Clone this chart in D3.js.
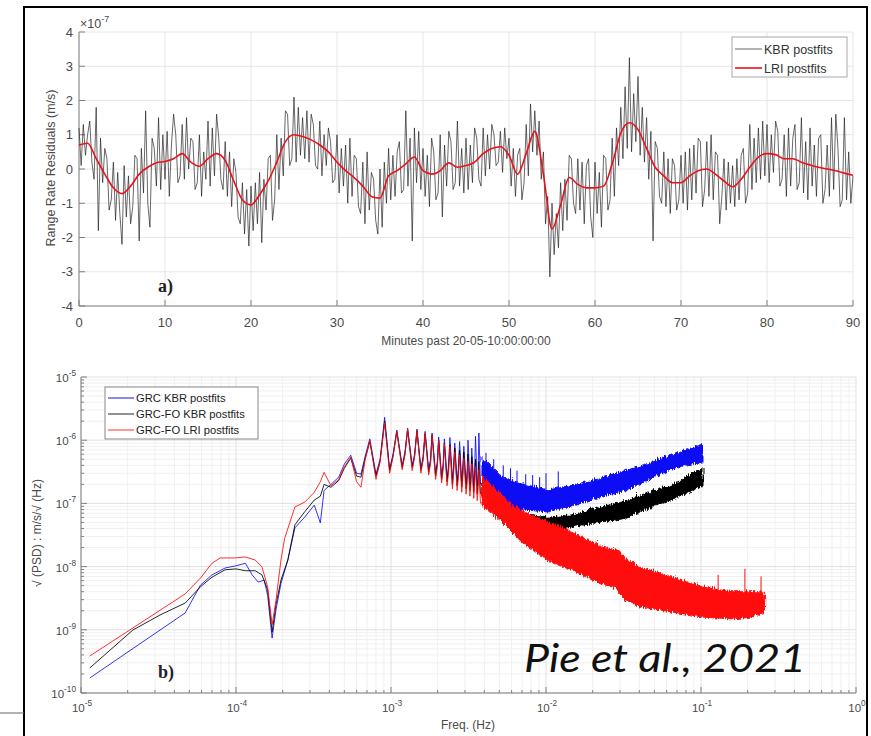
<!DOCTYPE html>
<html><head><meta charset="utf-8">
<script src="https://cdn.jsdelivr.net/npm/d3@7"></script>
<style>body{margin:0;background:#fff}svg{display:block}</style>
</head><body>
<svg id="c" width="871" height="736"></svg>
<script>
// ---------------- DATA: panel a ----------------
const timeTicks = [0,10,20,30,40,50,60,70,80,90];
const resTicks = [-4,-3,-2,-1,0,1,2,3,4];
const kbrStep = 0.25; // minutes between KBR samples
const kbrValues = [
1.2,0.1,1.3,0.4, 1.0,1.4,0.2,-0.3, 1.8,-1.8,0.9,-0.4, 0.6,0.3,-1.2,-0.9, 0.2,-1.5,-0.1,-1.3,
-2.2,0.1,-1.4,-0.2, -1.6,-1.1,0.4,0.3, -2.1,0.6,-0.7,1.7, -1.0,-1.7,0.9,0.6, -0.5,1.5,-0.6,1.0,
-0.3,1.1,-0.8,0.7, 1.6,1.0,-0.4,-0.2, 1.3,-0.3,1.5,0.0, 0.9,0.8,-0.6,-0.4, 1.0,-0.8,0.5,-0.3,
1.4,-0.5,1.2,-0.2, 1.6,0.9,-0.3,-0.6, 0.8,-0.8,0.5,-1.1, 0.3,-0.1,-1.4,-1.6, -0.4,-1.9,-0.6,-2.25,
-0.5,-1.8,-0.4,-1.6, -0.1,-2.15,-0.3,-1.2, 0.3,0.4,-1.5,-0.9, 1.0,-0.6,0.9,-0.2, 1.7,1.6,0.1,0.3,
2.1,0.2,1.8,0.4, 1.5,0.3,1.7,0.2, 1.6,1.3,0.1,0.0, 1.4,-0.2,1.0,0.1, 1.2,0.8,-0.4,-0.3,
1.0,-0.7,0.6,-0.5, 0.7,-1.0,0.9,-0.8, 0.4,0.3,-1.1,-1.3, 0.2,-1.6,0.5,-1.2, -0.1,-0.3,-1.5,-1.9,
0.0,-1.7,0.2,-1.0, 0.6,-0.9,0.4,-0.8, 0.5,0.8,-0.7,-0.6, 1.7,-0.5,0.9,-2.1, 1.2,-0.4,1.1,-0.6,
0.6,-0.8,0.4,-1.1, 0.9,0.5,-0.9,-0.7, 1.0,-1.4,0.7,-0.5, 1.1,0.8,-0.6,-0.4, 1.4,-0.5,0.6,-0.7,
0.9,-0.6,0.7,-0.4, 1.2,0.9,-0.3,-0.5, 1.2,-0.2,1.0,0.0, 1.3,1.0,0.1,0.2, 1.1,-0.1,1.2,0.3,
0.9,-0.5,0.6,-0.8, 0.4,0.6,-0.9,-0.4, 1.3,-0.2,1.9,0.5, 1.7,0.4,1.4,-0.3, 0.5,-1.6,-0.8,-3.15,
-1.0,-2.5,-1.3,-2.3, -0.4,-1.8,-0.3,-1.5, 0.4,0.3,-1.0,-1.3, 0.3,-1.2,0.2,-1.6, 0.1,0.3,-1.4,-2.0,
0.2,-1.3,-0.1,-1.7, 0.4,0.3,-1.2,-0.9, 0.9,-0.8,1.2,0.1, 1.8,0.3,2.4,0.6, 3.25,0.5,2.2,0.8,
2.7,0.4,1.8,0.2, 1.5,-0.3,1.1,-2.1, 0.8,0.6,-0.8,-1.0, 0.5,-1.1,0.3,-1.3, 0.3,0.1,-1.2,-0.9,
0.4,-1.0,0.5,-1.2, 0.6,-0.9,0.7,-0.7, 0.9,0.8,-1.1,-0.6, 0.8,-0.8,1.0,-0.9, 0.5,0.4,-1.6,-0.8,
0.3,-1.2,0.2,-1.0, 0.1,-1.1,0.3,-0.9, 0.4,0.6,-1.0,-0.7, 1.3,-0.6,0.9,-0.4, 1.2,-0.3,1.4,-0.2,
1.3,-0.4,1.0,-0.1, 1.4,1.1,-0.5,-0.3, 1.0,-0.8,1.2,-0.5, 0.9,1.3,-0.6,-0.4, 1.5,-0.7,0.8,-0.9,
1.2,-0.5,0.7,-0.8, 0.9,1.0,-1.0,-0.6, 0.7,-0.8,1.5,-0.6, 1.6,0.6,-1.1,-0.9, 1.5,-0.9,0.5,-1.0,
-0.2];
const lriStep = 1; // minutes between LRI points
const lriValues = [
0.70,0.75,0.30,-0.15,-0.55,-0.72,-0.50,-0.15,0.05,0.18,
0.22,0.30,0.45,0.20,0.08,0.30,0.45,0.25,-0.35,-0.90,
-1.05,-0.75,-0.35,0.20,0.80,1.00,0.95,0.85,0.70,0.50,
0.20,-0.05,-0.25,-0.50,-0.80,-0.85,-0.20,-0.05,0.15,0.35,
-0.05,-0.15,-0.05,0.18,0.05,0.10,0.20,0.45,0.60,0.65,
0.40,-0.15,0.45,1.10,-0.15,-1.75,-1.05,-0.25,-0.45,-0.55,
-0.55,-0.50,0.15,1.05,1.35,1.15,0.60,0.05,-0.20,-0.40,
-0.40,-0.20,-0.05,0.00,-0.15,-0.35,-0.52,-0.30,0.05,0.35,
0.45,0.42,0.30,0.30,0.20,0.12,0.05,0.00,-0.05,-0.12,-0.18];

// ---------------- DATA: panel b ----------------
const freqTicks = [1e-5,1e-4,1e-3,1e-2,1e-1,1];
const freqTickExp = ["-5","-4","-3","-2","-1","0"];
const psdTicks = [1e-10,1e-9,1e-8,1e-7,1e-6,1e-5];
const psdTickExp = ["-10","-9","-8","-7","-6","-5"];

const blueLow = [[1.14e-5,1.73e-10],[4.7e-5,1.85e-9],[5.9e-5,5.1e-9],[7.0e-5,7.4e-9],[8.5e-5,9.5e-9],
 [1.0e-4,1.03e-8],[1.15e-4,1.13e-8],[1.27e-4,7.4e-9],[1.39e-4,5.7e-9],[1.52e-4,6.1e-9],[1.6e-4,3.5e-9],
 [1.71e-4,7.4e-10],[1.81e-4,2.06e-9],[1.95e-4,5.4e-9],[2.16e-4,1.27e-8],[2.4e-4,4.1e-8],[2.78e-4,6.1e-8]];
const blackLow = [[1.14e-5,2.49e-10],[2.16e-5,9.9e-10],[3.23e-5,1.71e-9],[4.7e-5,2.65e-9],[5.9e-5,4.8e-9],
 [7.0e-5,6.8e-9],[8.5e-5,8.9e-9],[1.0e-4,9.2e-9],[1.15e-4,8.6e-9],[1.33e-4,8.6e-9],[1.47e-4,7.4e-9],
 [1.6e-4,4.3e-9],[1.71e-4,9.2e-10],[1.81e-4,2.5e-9],[1.95e-4,6.1e-9],[2.16e-4,1.27e-8],[2.4e-4,4.6e-8],[2.78e-4,7.4e-8]];
const redLow = [[1.14e-5,3.85e-10],[4.7e-5,3.7e-9],[5.9e-5,6.6e-9],[7.0e-5,1.13e-8],[7.9e-5,1.37e-8],
 [9.8e-5,1.37e-8],[1.15e-4,1.42e-8],[1.33e-4,1.27e-8],[1.47e-4,9.9e-9],[1.6e-4,4.8e-9],[1.71e-4,1.2e-9],
 [1.81e-4,2.9e-9],[1.95e-4,1.27e-8],[2.06e-4,2.8e-8],[2.4e-4,8.8e-8],[2.78e-4,1.05e-7]];

const oscFreq = [
3.2e-4,3.5e-4,3.7e-4,4.1e-4,4.6e-4,5.0e-4,5.5e-4,6.0e-4,6.4e-4,6.8e-4,
7.3e-4,8.0e-4,8.5e-4,9.1e-4,9.8e-4,1.03e-3,1.09e-3,1.18e-3,1.23e-3,1.28e-3,
1.37e-3,1.42e-3,1.47e-3,1.56e-3,1.61e-3,1.66e-3,1.75e-3,1.80e-3,1.84e-3,1.94e-3,
1.99e-3,2.03e-3,2.12e-3,2.17e-3,2.21e-3,2.30e-3,2.35e-3,2.40e-3,2.49e-3,2.53e-3,
2.58e-3,2.67e-3,2.72e-3,2.77e-3,2.86e-3,2.90e-3,2.95e-3,3.05e-3,3.10e-3,3.14e-3,
3.23e-3,3.28e-3,3.32e-3,3.42e-3,3.46e-3,3.51e-3,3.60e-3,3.65e-3,3.69e-3,3.78e-3];
const blueOsc = [
9.4e-8,4.9e-8,1.6e-7,2.0e-7,2.6e-7,4.2e-7,5.8e-7,3.0e-7,2.9e-7,5.5e-7,
1.05e-6,2.9e-7,5.0e-7,2.3e-6,3.5e-7,6.0e-7,1.45e-6,4.0e-7,6.5e-7,1.55e-6,
4.0e-7,6.0e-7,1.5e-6,3.6e-7,5.5e-7,1.38e-6,3.5e-7,5.0e-7,1.3e-6,3.0e-7,
4.6e-7,1.12e-6,2.7e-7,4.2e-7,1.05e-6,2.5e-7,4.0e-7,1.1e-6,2.4e-7,3.8e-7,
9.0e-7,2.3e-7,3.6e-7,9.5e-7,2.2e-7,3.5e-7,8.0e-7,2.1e-7,3.4e-7,1.0e-6,
2.0e-7,3.2e-7,7.5e-7,1.9e-7,3.0e-7,1.15e-6,1.9e-7,3.0e-7,1.3e-6,2.0e-7];
const blackOsc = [
1.13e-7,1.3e-7,2.0e-7,1.8e-7,2.3e-7,3.6e-7,5.2e-7,2.7e-7,2.6e-7,5.0e-7,
9.5e-7,2.7e-7,4.6e-7,2.0e-6,3.3e-7,5.6e-7,1.35e-6,3.7e-7,6.0e-7,1.45e-6,
3.7e-7,5.6e-7,1.4e-6,3.3e-7,5.0e-7,1.25e-6,3.1e-7,4.6e-7,1.2e-6,2.7e-7,
4.2e-7,1.0e-6,2.4e-7,3.8e-7,9.0e-7,2.2e-7,3.5e-7,8.5e-7,2.0e-7,3.3e-7,
7.5e-7,1.9e-7,3.0e-7,7.0e-7,1.8e-7,2.8e-7,6.5e-7,1.7e-7,2.6e-7,6.0e-7,
1.6e-7,2.5e-7,5.5e-7,1.5e-7,2.3e-7,5.0e-7,1.4e-7,2.2e-7,4.6e-7,1.4e-7];
const redOsc = [
1.5e-7,2.2e-7,3.1e-7,1.9e-7,2.4e-7,3.8e-7,5.4e-7,2.2e-7,1.8e-7,4.8e-7,
1.0e-6,2.4e-7,4.5e-7,1.9e-6,3.0e-7,5.4e-7,1.4e-6,3.4e-7,5.8e-7,1.5e-6,
3.3e-7,5.4e-7,1.45e-6,3.0e-7,4.8e-7,1.3e-6,2.8e-7,4.3e-7,1.2e-6,2.4e-7,
3.8e-7,1.0e-6,2.1e-7,3.4e-7,8.8e-7,1.9e-7,3.0e-7,8.0e-7,1.7e-7,2.7e-7,
6.5e-7,1.6e-7,2.5e-7,5.8e-7,1.5e-7,2.3e-7,5.2e-7,1.4e-7,2.1e-7,4.6e-7,
1.3e-7,2.0e-7,4.2e-7,1.2e-7,1.9e-7,3.8e-7,1.1e-7,1.7e-7,3.4e-7,1.0e-7];

// dense-noise envelopes at high frequency
const kbrBandFreq = [3.75e-3,5.05e-3,6.8e-3,1.0e-2,1.43e-2,2.23e-2,3.0e-2,4.5e-2,6.3e-2,8.0e-2,1.0e-1];
const blueBandHi = [5.8e-7,2.8e-7,2.2e-7,1.75e-7,2.1e-7,2.7e-7,3.4e-7,4.7e-7,6.3e-7,7.8e-7,9.4e-7];
const blueBandLo = [2.0e-7,9.4e-8,8.5e-8,7.9e-8,1.0e-7,1.4e-7,1.63e-7,2.6e-7,3.77e-7,4.4e-7,4.9e-7];
const blackBandHi = [2.8e-7,1.2e-7,7.5e-8,6.5e-8,7.1e-8,9.5e-8,1.13e-7,1.6e-7,2.1e-7,2.9e-7,4.0e-7];
const blackBandLo = [1.4e-7,6.5e-8,4.5e-8,3.8e-8,4.6e-8,5.5e-8,6.1e-8,9.0e-8,1.26e-7,1.6e-7,2.1e-7];
const redBandFreq = [3.75e-3,5.05e-3,6.8e-3,1.0e-2,1.43e-2,2.23e-2,2.7e-2,2.9e-2,3.2e-2,3.87e-2,6.3e-2,1.0e-1,1.54e-1,2.0e-1,2.5e-1];
const redBandHi = [3.0e-7,1.4e-7,8.0e-8,5.5e-8,3.8e-8,2.2e-8,2.0e-8,1.9e-8,1.4e-8,1.06e-8,7.4e-9,5.1e-9,4.3e-9,4.3e-9,4.3e-9];
const redBandLo = [1.0e-7,5.5e-8,2.6e-8,1.35e-8,9.5e-9,5.7e-9,5.0e-9,4.0e-9,3.2e-9,2.5e-9,2.06e-9,1.71e-9,1.6e-9,1.7e-9,2.06e-9];
const blueSpikes = [[4.1e-3,6.3e-7],[4.6e-3,5.0e-7],[5.3e-3,4.0e-7],[5.9e-3,3.6e-7],[6.5e-3,3.3e-7],[7.4e-3,2.9e-7],[8.2e-3,2.8e-7],[9.1e-3,2.6e-7],[1.0e-2,3.0e-7],[1.2e-2,3.2e-7]];
const redSpikes = [[0.129,7.4e-9],[0.192,9.2e-9],[0.244,7.0e-9]];

// ---------------- DRAW ----------------
const svg = d3.select('#c');
const TXT = '#4a4a4a', AX = '#808080', FONT = 'Liberation Sans, Arial, sans-serif';
const defs = svg.append('defs');
const flt = defs.append('filter').attr('id','rough').attr('x','-5%').attr('y','-30%').attr('width','110%').attr('height','160%');
flt.append('feTurbulence').attr('type','turbulence').attr('baseFrequency','0.9 0.06').attr('numOctaves',1).attr('seed',4).attr('result','n');
flt.append('feDisplacementMap').attr('in','SourceGraphic').attr('in2','n').attr('scale',6).attr('xChannelSelector','R').attr('yChannelSelector','G');

// outer frame
svg.append('rect').attr('x',24).attr('y',7).attr('width',843).attr('height',745).attr('fill','none').attr('stroke','#000').attr('stroke-width',2);
svg.append('line').attr('x1',0).attr('x2',24).attr('y1',713).attr('y2',713).attr('stroke','#666');

function sup(g, x, y, exp, anchor, size){
  const t = g.append('text').attr('x',x).attr('y',y).attr('text-anchor',anchor)
    .attr('font-family',FONT).attr('font-size',size).attr('fill',TXT);
  t.append('tspan').text('10');
  t.append('tspan').attr('dy',-6).attr('font-size',size*0.72).text(exp);
  return t;
}

// ----- panel a -----
const xa = d3.scaleLinear([0,90],[79,853]);
const ya = d3.scaleLinear([-4,4],[306,32]);
const ga = svg.append('g');
ga.selectAll('.gx').data(timeTicks).join('line').attr('x1',d=>xa(d)).attr('x2',d=>xa(d)).attr('y1',ya(-4)).attr('y2',ya(4)).attr('stroke','#e6e6e6');
ga.selectAll('.gy').data(resTicks).join('line').attr('y1',d=>ya(d)).attr('y2',d=>ya(d)).attr('x1',xa(0)).attr('x2',xa(90)).attr('stroke','#e6e6e6');
ga.append('line').attr('x1',xa(0)).attr('x2',xa(90)).attr('y1',ya(-4)).attr('y2',ya(-4)).attr('stroke',AX);
ga.append('line').attr('x1',xa(0)).attr('x2',xa(0)).attr('y1',ya(-4)).attr('y2',ya(4)).attr('stroke',AX);
ga.selectAll('.tx').data(timeTicks).join('line').attr('x1',d=>xa(d)).attr('x2',d=>xa(d)).attr('y1',ya(-4)).attr('y2',ya(-4)-6).attr('stroke',AX);
ga.selectAll('.ty').data(resTicks).join('line').attr('y1',d=>ya(d)).attr('y2',d=>ya(d)).attr('x1',xa(0)).attr('x2',xa(0)+6).attr('stroke',AX);
ga.selectAll('.lx').data(timeTicks).join('text').attr('x',d=>xa(d)).attr('y',327).attr('text-anchor','middle')
  .attr('font-family',FONT).attr('font-size',13).attr('fill',TXT).text(d=>d);
ga.selectAll('.ly').data(resTicks).join('text').attr('x',73).attr('y',d=>ya(d)+4.5).attr('text-anchor','end')
  .attr('font-family',FONT).attr('font-size',13).attr('fill',TXT).text(d=>d);
{ const t = ga.append('text').attr('x',80).attr('y',28).attr('font-family',FONT).attr('font-size',12.5).attr('fill',TXT);
  t.append('tspan').text('\u00d710'); t.append('tspan').attr('dy',-6).attr('font-size',9).text('-7'); }
ga.append('text').attr('x',466).attr('y',345).attr('text-anchor','middle').attr('font-family',FONT).attr('font-size',12).attr('fill',TXT).text('Minutes past 20-05-10:00:00:00');
ga.append('text').attr('transform','translate(55,168) rotate(-90)').attr('text-anchor','middle').attr('font-family',FONT).attr('font-size',12.5).attr('fill',TXT).text('Range Rate Residuals (m/s)');

const kbrLine = d3.line().x((d,i)=>xa(i*kbrStep)).y(d=>ya(d));
ga.append('path').attr('d',kbrLine(kbrValues)).attr('fill','none').attr('stroke','#1e1e1e').attr('stroke-opacity',0.75).attr('stroke-width',0.9);
const lriLine = d3.line().curve(d3.curveMonotoneX).x((d,i)=>xa(i*lriStep)).y(d=>ya(d));
ga.append('path').attr('d',lriLine(lriValues)).attr('fill','none').attr('stroke','#e8121c').attr('stroke-width',1.6);
ga.append('text').attr('x',158).attr('y',292).attr('font-family','Liberation Serif, Times New Roman, serif').attr('font-weight','bold').attr('font-size',18).attr('fill','#222').text('a)');

// legend a
ga.append('rect').attr('x',732).attr('y',37).attr('width',115).attr('height',40).attr('fill','#fff').attr('stroke','#a8a8a8');
ga.append('line').attr('x1',735).attr('x2',762).attr('y1',49).attr('y2',49).attr('stroke','#555').attr('stroke-width',0.9);
ga.append('line').attr('x1',735).attr('x2',762).attr('y1',68).attr('y2',68).attr('stroke','#e8121c').attr('stroke-width',1.6);
ga.append('text').attr('x',764).attr('y',53.5).attr('font-family',FONT).attr('font-size',12.5).attr('fill','#333').text('KBR postfits');
ga.append('text').attr('x',764).attr('y',72.5).attr('font-family',FONT).attr('font-size',12.5).attr('fill','#333').text('LRI postfits');

// ----- panel b -----
const xb = d3.scaleLog([1e-5,1],[81,856]);
const yb = d3.scaleLog([1e-10,1e-5],[693,377]);
const gb = svg.append('g');
const minorX = [], minorY = [];
for (let e=-5; e<0; e++) for (let k=2; k<10; k++) minorX.push(k*Math.pow(10,e));
for (let e=-10; e<-5; e++) for (let k=2; k<10; k++) minorY.push(k*Math.pow(10,e));
gb.selectAll('.mgx').data(minorX).join('line').attr('x1',d=>xb(d)).attr('x2',d=>xb(d)).attr('y1',693).attr('y2',377).attr('stroke','#f0f0f0');
gb.selectAll('.mgy').data(minorY).join('line').attr('y1',d=>yb(d)).attr('y2',d=>yb(d)).attr('x1',81).attr('x2',856).attr('stroke','#f0f0f0');
gb.selectAll('.gx').data(freqTicks).join('line').attr('x1',d=>xb(d)).attr('x2',d=>xb(d)).attr('y1',693).attr('y2',377).attr('stroke','#e0e0e0');
gb.selectAll('.gy').data(psdTicks).join('line').attr('y1',d=>yb(d)).attr('y2',d=>yb(d)).attr('x1',81).attr('x2',856).attr('stroke','#e0e0e0');
gb.append('line').attr('x1',81).attr('x2',856).attr('y1',693).attr('y2',693).attr('stroke',AX);
gb.append('line').attr('x1',81).attr('x2',81).attr('y1',693).attr('y2',377).attr('stroke',AX);
gb.selectAll('.tx').data(freqTicks).join('line').attr('x1',d=>xb(d)).attr('x2',d=>xb(d)).attr('y1',693).attr('y2',687).attr('stroke',AX);
gb.selectAll('.mtx').data(minorX).join('line').attr('x1',d=>xb(d)).attr('x2',d=>xb(d)).attr('y1',693).attr('y2',690).attr('stroke',AX);
gb.selectAll('.ty').data(psdTicks).join('line').attr('y1',d=>yb(d)).attr('y2',d=>yb(d)).attr('x1',81).attr('x2',87).attr('stroke',AX);
gb.selectAll('.mty').data(minorY).join('line').attr('y1',d=>yb(d)).attr('y2',d=>yb(d)).attr('x1',81).attr('x2',84).attr('stroke',AX);
freqTicks.forEach((f,i)=>sup(gb, xb(f)+1, 712, freqTickExp[i], 'middle', 11.5));
psdTicks.forEach((v,i)=>sup(gb, 76, yb(v)+5, psdTickExp[i], 'end', 11.5));
gb.append('text').attr('x',468).attr('y',729).attr('text-anchor','middle').attr('font-family',FONT).attr('font-size',12).attr('fill',TXT).text('Freq. (Hz)');
gb.append('text').attr('transform','translate(41,533) rotate(-90)').attr('text-anchor','middle').attr('font-family',FONT).attr('font-size',12).attr('fill',TXT).text('\u221a (PSD) : m/s/\u221a (Hz)');

const lb = d3.line().x(d=>xb(d[0])).y(d=>yb(d[1]));
const ab = d3.area().x(d=>xb(d[0])).y0(d=>yb(d[1])).y1(d=>yb(d[2]));
function pts(low, osc){ return low.concat(oscFreq.map((f,i)=>[f, osc[i]])); }
function band(fr, lo, hi){ return fr.map((f,i)=>[f, lo[i], hi[i]]); }
const series = [
  {low:blueLow, osc:blueOsc, fr:kbrBandFreq, lo:blueBandLo, hi:blueBandHi, c:'#1010f5'},
  {low:blackLow, osc:blackOsc, fr:kbrBandFreq, lo:blackBandLo, hi:blackBandHi, c:'#000000'},
  {low:redLow, osc:redOsc, fr:redBandFreq, lo:redBandLo, hi:redBandHi, c:'#ff0a0a'}
];
series.forEach(s=>{
  gb.append('path').attr('d',lb(pts(s.low,s.osc))).attr('fill','none').attr('stroke',s.c).attr('stroke-width',1).attr('stroke-opacity',0.85);
  gb.append('path').attr('d',ab(band(s.fr,s.lo,s.hi))).attr('fill',s.c).attr('stroke',s.c).attr('stroke-width',1).attr('filter','url(#rough)');
});
function spikes(list, fr, hi, c){
  const base = d3.scaleLinear().domain(fr.map(Math.log10)).range(hi.map(v=>yb(v)));
  gb.selectAll(null).data(list).join('line').attr('x1',d=>xb(d[0])).attr('x2',d=>xb(d[0]))
    .attr('y1',d=>base(Math.log10(d[0]))+4).attr('y2',d=>yb(d[1])).attr('stroke',c).attr('stroke-width',1);
}
spikes(blueSpikes, kbrBandFreq, blueBandHi, '#1010f5');
spikes(redSpikes, redBandFreq, redBandHi, '#ff0a0a');

gb.append('text').attr('x',158).attr('y',678).attr('font-family','Liberation Serif, Times New Roman, serif').attr('font-weight','bold').attr('font-size',18).attr('fill','#222').text('b)');

// legend b
const legB = [['GRC KBR postfits','#1010f5'],['GRC-FO KBR postfits','#222'],['GRC-FO LRI postfits','#ff3030']];
gb.append('rect').attr('x',105).attr('y',387).attr('width',153).attr('height',52).attr('fill','#fff').attr('stroke','#888');
legB.forEach((d,i)=>{
  const y = 398 + i*16;
  gb.append('line').attr('x1',108).attr('x2',134).attr('y1',y).attr('y2',y).attr('stroke',d[1]).attr('stroke-width',1);
  gb.append('text').attr('x',136).attr('y',y+4).attr('font-family',FONT).attr('font-size',11.2).attr('fill','#222').text(d[0]);
});

svg.append('text').attr('x',524).attr('y',672).attr('font-family','Lato, Open Sans, sans-serif').attr('font-style','italic')
  .attr('font-size',39).attr('fill','#111').attr('textLength',282).attr('lengthAdjust','spacingAndGlyphs').text('Pie et al., 2021');
</script>
</body></html>
